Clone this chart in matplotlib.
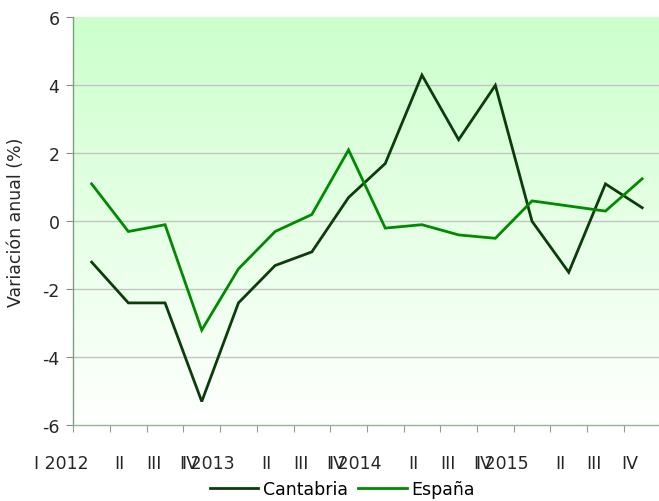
import numpy as np
import matplotlib
matplotlib.use("Agg")
import matplotlib.pyplot as plt
import matplotlib.transforms as mtransforms

# Quarterly year-on-year change (%)
quarters = ["I 2012", "II", "III", "IV",
            "I 2013", "II", "III", "IV",
            "I 2014", "II", "III", "IV",
            "I 2015", "II", "III", "IV"]
cantabria = [-1.2, -2.4, -2.4, -5.3, -2.4, -1.3, -0.9, 0.7,
             1.7, 4.3, 2.4, 4.0, 0.0, -1.5, 1.1, 0.4]
espana = [1.1, -0.3, -0.1, -3.2, -1.4, -0.3, 0.2, 2.1,
          -0.2, -0.1, -0.4, -0.5, 0.6, 0.45, 0.3, 1.25]
y_ticks = [-6, -4, -2, 0, 2, 4, 6]

plt.rcParams["font.family"] = ["DejaVu Sans"]
FS = 12.5
TEXT = "#262626"

fig = plt.figure(figsize=(6.59, 5.02), dpi=100)
ax = fig.add_axes([73.3 / 659, 75.7 / 502, 587.2 / 659, 408 / 502])

x = np.arange(1, len(quarters) + 1)
ax.set_xlim(0.5, len(quarters) + 0.5)
ax.set_ylim(-6, 6)

# vertical green-to-white background gradient
grad = np.linspace(1, 0, 256).reshape(-1, 1)
top = np.array([0.80, 1.0, 0.80])
bottom = np.array([1.0, 1.0, 1.0])
img = bottom + (top - bottom) * grad[..., None]
ax.imshow(img, extent=[0.5, len(quarters) + 0.5, -6, 6], aspect="auto",
          origin="upper", zorder=0, interpolation="bicubic")

for yv in [-4, -2, 0, 2, 4]:
    ax.axhline(yv, color="#c4c4c4", lw=1.0, zorder=1)

ax.plot(x, cantabria, color="#0b3d0b", lw=2.0, label="Cantabria", zorder=3,
        solid_joinstyle="miter")
ax.plot(x, espana, color="#008a00", lw=2.0, label="España", zorder=3,
        solid_joinstyle="miter")

for s in ["top", "right"]:
    ax.spines[s].set_visible(False)
ax.spines["left"].set_color("#7fa07f")
ax.spines["bottom"].set_color("#8fb88f")
ax.spines["left"].set_linewidth(1.0)
ax.spines["bottom"].set_linewidth(1.0)

ax.set_yticks(y_ticks)
ax.set_yticklabels([str(v) for v in y_ticks], fontsize=FS, color=TEXT)
ax.tick_params(axis="y", length=5, color="#888888", pad=5)

# category boundaries as major ticks, labels on minor ticks at centres
ax.set_xticks(np.arange(0.5, len(quarters) + 0.5, 1.0))
ax.set_xticklabels([])
ax.tick_params(axis="x", which="major", length=5, color="#999999")
ax.set_xticks(x, minor=True)
ax.set_xticklabels(quarters, minor=True, fontsize=FS, color=TEXT)
ax.tick_params(axis="x", which="minor", length=0, pad=21)
offset = mtransforms.ScaledTranslation(-3.5 / 100, 0, fig.dpi_scale_trans)
for lab in ax.get_xticklabels(minor=True):
    lab.set_horizontalalignment("right")
    lab.set_transform(lab.get_transform() + offset)

ax.set_ylabel("Variación anual (%)", fontsize=FS, color=TEXT, labelpad=12)

handles, labels = ax.get_legend_handles_labels()
fig.legend(handles, labels, loc="center",
           bbox_to_anchor=(342 / 659, 1 - 490 / 502), ncol=2,
           frameon=False, fontsize=FS, handlelength=2.8,
           handletextpad=0.25, columnspacing=0.6, borderpad=0.1)

fig.savefig("out.png", dpi=100)
